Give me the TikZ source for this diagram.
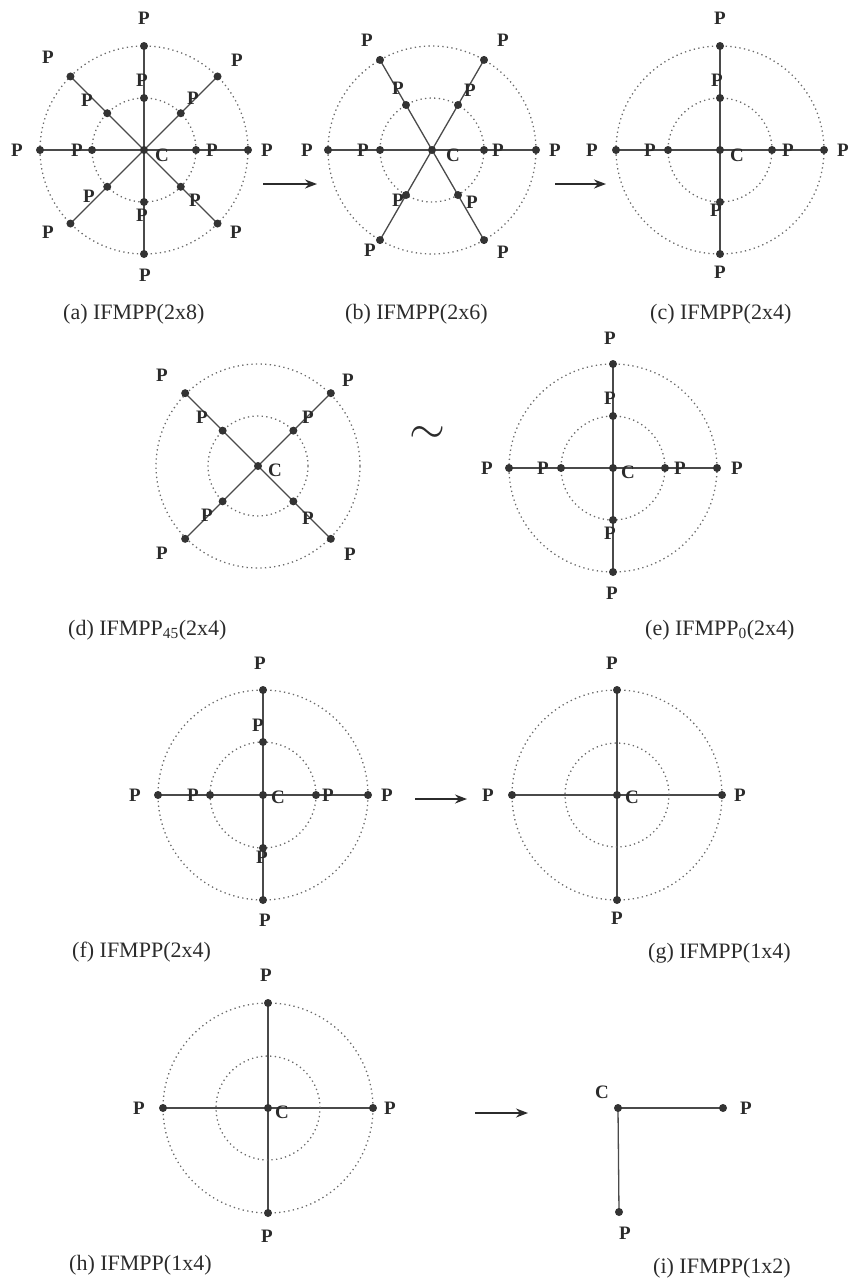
\documentclass[tikz,border=0pt]{standalone}
\usepackage{fontspec}
\usepackage{graphicx}
\setmainfont{Liberation Serif}
\usetikzlibrary{arrows.meta,backgrounds}
\definecolor{ink}{HTML}{2B2B2B}
\definecolor{dotc}{HTML}{333333}
\definecolor{spokec}{HTML}{4A4A4A}
\definecolor{ringc}{HTML}{6A6A6A}
\tikzset{
 pt/.style={circle,fill=dotc,inner sep=0pt,minimum size=8pt},
 lbl/.style={font=\fontsize{19}{19}\selectfont\bfseries,text=ink,inner sep=0pt},
 captxt/.style={font=\fontsize{22}{24}\selectfont,text=ink,inner sep=0pt,anchor=west},
 ring/.style={draw=ringc,line width=1.3pt,dash pattern=on 1.3pt off 3.3pt},
 spoke/.style={draw=spokec,line width=1.3pt},
 flow/.style={draw=ink,line width=1.6pt,-{Stealth[length=12pt,width=9pt]}},
}
\begin{document}
\begin{tikzpicture}[x=1pt,y=-1pt]
\useasboundingbox (0,0) rectangle (851,1285);

% ---------- (a) ----------
\begin{scope}[shift={(144,150)}]
\draw[ring] (0,0) circle[radius=104pt];
\draw[ring] (0,0) circle[radius=52pt];
\node[pt] (aC) at (0,0) {};
\foreach \a [count=\i] in {0,45,...,315}{
  \node[pt] (aO\i) at (\a:104) {};
  \node[pt] (aI\i) at (\a:52) {};
}
\begin{pgfonlayer}{background}
\foreach \i in {1,...,8} \draw[spoke] (aC.center) -- (aO\i.center);
\end{pgfonlayer}
\foreach \x/\y [count=\k] in {0/-132,-96/-93,-2/-70,-57/-50,-127/0,-67/0,68/0,123/0,49/-52,93/-90,51/50,92/82,-2/65,1/125,-55/46,-96/82}
  \node[lbl] (aP\k) at (\x,\y) {P};
\node[lbl] (aCl) at (18,5) {C};
\end{scope}

% ---------- (b) ----------
\begin{scope}[shift={(432,150)}]
\draw[ring] (0,0) circle[radius=104pt];
\draw[ring] (0,0) circle[radius=52pt];
\node[pt] (bC) at (0,0) {};
\foreach \a [count=\i] in {0,60,...,300}{
  \node[pt] (bO\i) at (\a:104) {};
  \node[pt] (bI\i) at (\a:52) {};
}
\begin{pgfonlayer}{background}
\foreach \i in {1,...,6} \draw[spoke] (bC.center) -- (bO\i.center);
\end{pgfonlayer}
\foreach \x/\y [count=\k] in {-65/-110,71/-110,-34/-62,38/-60,-125/0,-69/0,66/0,123/0,-34/50,40/52,-62/100,71/102}
  \node[lbl] (bP\k) at (\x,\y) {P};
\node[lbl] (bCl) at (21,5) {C};
\end{scope}

% ---------- (c) ----------
\begin{scope}[shift={(720,150)}]
\draw[ring] (0,0) circle[radius=104pt];
\draw[ring] (0,0) circle[radius=52pt];
\node[pt] (cC) at (0,0) {};
\foreach \a [count=\i] in {0,90,180,270}{
  \node[pt] (cO\i) at (\a:104) {};
  \node[pt] (cI\i) at (\a:52) {};
}
\begin{pgfonlayer}{background}
\foreach \i in {1,...,4} \draw[spoke] (cC.center) -- (cO\i.center);
\end{pgfonlayer}
\foreach \x/\y [count=\k] in {0/-132,-3/-70,-128/0,-70/0,68/0,123/0,-4/60,0/122}
  \node[lbl] (cP\k) at (\x,\y) {P};
\node[lbl] (cCl) at (17,5) {C};
\end{scope}

% ---------- (d) ----------
\begin{scope}[shift={(258,466)}]
\draw[ring] (0,0) circle[radius=102pt];
\draw[ring] (0,0) circle[radius=50pt];
\node[pt] (dC) at (0,0) {};
\foreach \a [count=\i] in {45,135,225,315}{
  \node[pt] (dO\i) at (\a:103) {};
  \node[pt] (dI\i) at (\a:50) {};
}
\begin{pgfonlayer}{background}
\foreach \i in {1,...,4} \draw[spoke] (dC.center) -- (dO\i.center);
\end{pgfonlayer}
\foreach \x/\y [count=\k] in {-96/-91,90/-86,-56/-49,50/-49,-51/49,50/52,-96/87,92/88}
  \node[lbl] (dP\k) at (\x,\y) {P};
\node[lbl] (dCl) at (17,4) {C};
\end{scope}

\node[text=ink,inner sep=0pt] (sim) at (427,435) {\resizebox{36pt}{!}{$\sim$}};

% ---------- (e) ----------
\begin{scope}[shift={(613,468)}]
\draw[ring] (0,0) circle[radius=104pt];
\draw[ring] (0,0) circle[radius=52pt];
\node[pt] (eC) at (0,0) {};
\foreach \a [count=\i] in {0,90,180,270}{
  \node[pt] (eO\i) at (\a:104) {};
  \node[pt] (eI\i) at (\a:52) {};
}
\begin{pgfonlayer}{background}
\foreach \i in {1,...,4} \draw[spoke] (eC.center) -- (eO\i.center);
\end{pgfonlayer}
\foreach \x/\y [count=\k] in {-3/-130,-3/-70,-126/0,-70/0,67/0,124/0,-3/65,-1/125}
  \node[lbl] (eP\k) at (\x,\y) {P};
\node[lbl] (eCl) at (15,4) {C};
\end{scope}

% ---------- (f) ----------
\begin{scope}[shift={(263,795)}]
\draw[ring] (0,0) circle[radius=105pt];
\draw[ring] (0,0) circle[radius=53pt];
\node[pt] (fC) at (0,0) {};
\foreach \a [count=\i] in {0,90,180,270}{
  \node[pt] (fO\i) at (\a:105) {};
  \node[pt] (fI\i) at (\a:53) {};
}
\begin{pgfonlayer}{background}
\foreach \i in {1,...,4} \draw[spoke] (fC.center) -- (fO\i.center);
\end{pgfonlayer}
\foreach \x/\y [count=\k] in {-3/-132,-5/-70,-128/0,-70/0,65/0,124/0,-1/62,2/125}
  \node[lbl] (fP\k) at (\x,\y) {P};
\node[lbl] (fCl) at (15,2) {C};
\end{scope}

% ---------- (g) ----------
\begin{scope}[shift={(617,795)}]
\draw[ring] (0,0) circle[radius=105pt];
\draw[ring] (0,0) circle[radius=52pt];
\node[pt] (gC) at (0,0) {};
\foreach \a [count=\i] in {0,90,180,270}{
  \node[pt] (gO\i) at (\a:105) {};
}
\begin{pgfonlayer}{background}
\foreach \i in {1,...,4} \draw[spoke] (gC.center) -- (gO\i.center);
\end{pgfonlayer}
\foreach \x/\y [count=\k] in {-5/-132,-129/0,123/0,0/123}
  \node[lbl] (gP\k) at (\x,\y) {P};
\node[lbl] (gCl) at (15,2) {C};
\end{scope}

% ---------- (h) ----------
\begin{scope}[shift={(268,1108)}]
\draw[ring] (0,0) circle[radius=105pt];
\draw[ring] (0,0) circle[radius=52pt];
\node[pt] (hC) at (0,0) {};
\foreach \a [count=\i] in {0,90,180,270}{
  \node[pt] (hO\i) at (\a:105) {};
}
\begin{pgfonlayer}{background}
\foreach \i in {1,...,4} \draw[spoke] (hC.center) -- (hO\i.center);
\end{pgfonlayer}
\foreach \x/\y [count=\k] in {-2/-133,-129/0,122/0,-1/128}
  \node[lbl] (hP\k) at (\x,\y) {P};
\node[lbl] (hCl) at (14,4) {C};
\end{scope}

% ---------- (i) ----------
\node[pt] (iC) at (618,1108) {};
\node[pt] (iR) at (723,1108) {};
\node[pt] (iB) at (619,1212) {};
\begin{pgfonlayer}{background}
\draw[spoke] (iC.center) -- (iR.center);
\draw[spoke] (iC.center) -- (iB.center);
\end{pgfonlayer}
\node[lbl] (iCl) at (602,1092) {C};
\node[lbl] (iRl) at (746,1108) {P};
\node[lbl] (iBl) at (625,1233) {P};

% ---------- arrows ----------
\coordinate (ab1) at (263,184); \coordinate (ab2) at (317,184);
\coordinate (bc1) at (555,184); \coordinate (bc2) at (606,184);
\coordinate (fg1) at (415,799); \coordinate (fg2) at (467,799);
\coordinate (hi1) at (475,1113); \coordinate (hi2) at (528,1113);
\draw[flow] (ab1) -- (ab2);
\draw[flow] (bc1) -- (bc2);
\draw[flow] (fg1) -- (fg2);
\draw[flow] (hi1) -- (hi2);

% ---------- captions ----------
\node[captxt] (capa) at (63,314) {(a) IFMPP(2x8)};
\node[captxt] (capb) at (345,314) {(b) IFMPP(2x6)};
\node[captxt] (capc) at (650,314) {(c) IFMPP(2x4)};
\node[captxt] (capd) at (68,630) {(d) IFMPP\textsubscript{45}(2x4)};
\node[captxt] (cape) at (645,630) {(e) IFMPP\textsubscript{0}(2x4)};
\node[captxt] (capf) at (72,952) {(f) IFMPP(2x4)};
\node[captxt] (capg) at (648,953) {(g) IFMPP(1x4)};
\node[captxt] (caph) at (69,1265) {(h) IFMPP(1x4)};
\node[captxt] (capi) at (653,1268) {(i) IFMPP(1x2)};
\end{tikzpicture}
\end{document}
